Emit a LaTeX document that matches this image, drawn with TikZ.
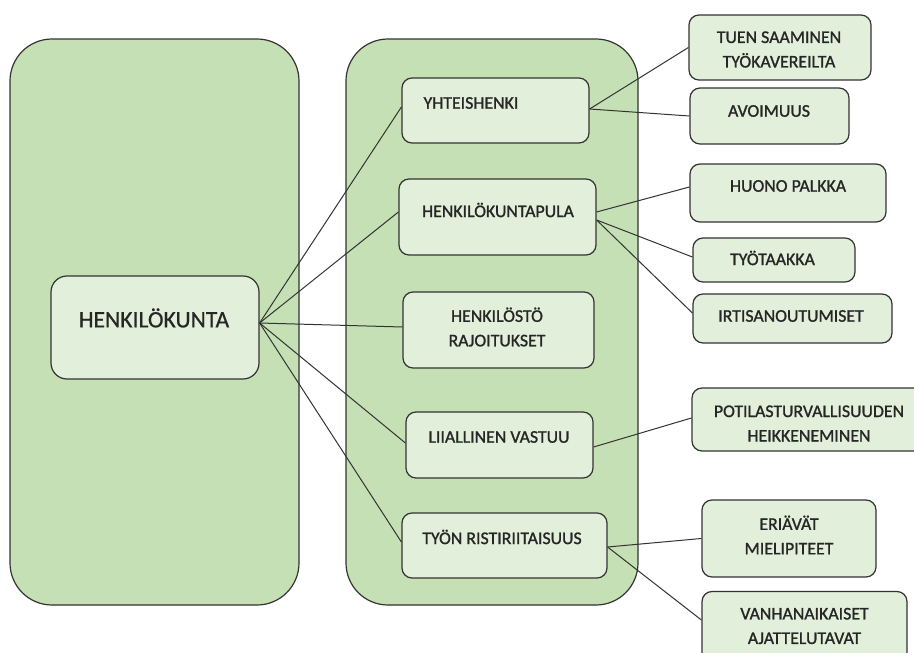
\documentclass[tikz,border=0pt]{standalone}
\usepackage{fontspec}
\setmainfont{Carlito}
\newfontfamily\lblfont[FakeBold=1.2]{Carlito}
\newfontfamily\mainfont[FakeBold=0.6]{Carlito}
\definecolor{bigfill}{HTML}{C5E0B4}
\definecolor{smallfill}{HTML}{E2EFDA}
\definecolor{edge}{HTML}{333333}
\definecolor{txt}{HTML}{262626}
\tikzset{
  bigbox/.style={draw=edge, fill=bigfill, line width=1.2pt, rounded corners=42pt, inner sep=0pt},
  mainbox/.style={draw=edge, fill=smallfill, line width=1.2pt, rounded corners=16pt, inner sep=0pt},
  itembox/.style={draw=edge, fill=smallfill, line width=1.2pt, rounded corners=10pt, inner sep=0pt},
  lbl/.style={text=txt, align=center, inner sep=0pt, font=\lblfont\fontsize{17.8}{24.5}\selectfont},
  mainlbl/.style={text=txt, align=center, inner sep=0pt, font=\mainfont\fontsize{23.6}{28}\selectfont},
  conn/.style={draw=edge, line width=1pt}
}
\begin{document}
\begin{tikzpicture}[x=1pt,y=-1pt]
\clip (0,0) rectangle (914,653);
\fill[white] (0,0) rectangle (914,653);
% big containers
\node[bigbox, minimum width=289pt, minimum height=566pt] (bigL) at (154.5,322) {};
\node[bigbox, minimum width=292pt, minimum height=566pt] (bigM) at (492,322) {};
% main
\node[mainbox, minimum width=208pt, minimum height=103pt,
  label={[mainlbl,xshift=-1pt,yshift=9.5pt]center:HENKILÖKUNTA}] (henk) at (155,327.5) {};
% middle column
\node[itembox, minimum width=187pt, minimum height=65pt,
  label={[lbl,xshift=-24.5pt,yshift=7.5pt]center:YHTEISHENKI}] (yht) at (495.5,110.5) {};
\node[itembox, minimum width=197pt, minimum height=76pt,
  label={[lbl,xshift=0.5pt,yshift=7pt]center:HENKILÖKUNTAPULA}] (hp) at (497.5,217) {};
\node[itembox, minimum width=191pt, minimum height=76pt,
  label={[lbl,xshift=-1.5pt,yshift=3pt]center:{HENKILÖSTÖ\\RAJOITUKSET}}] (hr) at (498.5,330) {};
\node[itembox, minimum width=187pt, minimum height=66pt,
  label={[lbl,xshift=-0.5pt,yshift=8pt]center:LIIALLINEN VASTUU}] (lv) at (499.5,445) {};
\node[itembox, minimum width=205pt, minimum height=65pt,
  label={[lbl,xshift=-2.5pt,yshift=8.5pt]center:TYÖN RISTIRIITAISUUS}] (tr) at (504.5,545.5) {};
% right column
\node[itembox, minimum width=182pt, minimum height=65pt,
  label={[lbl,xshift=-1pt,yshift=-2pt]center:{TUEN SAAMINEN\\TYÖKAVEREILTA}}] (tuen) at (780,47.5) {};
\node[itembox, minimum width=159pt, minimum height=56pt,
  label={[lbl,xshift=-0.5pt,yshift=5pt]center:AVOIMUUS}] (avo) at (769.5,116) {};
\node[itembox, minimum width=196pt, minimum height=58pt,
  label={[lbl,yshift=7pt]center:HUONO PALKKA}] (huo) at (788,193) {};
\node[itembox, minimum width=162pt, minimum height=44pt,
  label={[lbl,xshift=-1.5pt,yshift=2pt]center:TYÖTAAKKA}] (tyo) at (774,260) {};
\node[itembox, minimum width=199pt, minimum height=49pt,
  label={[lbl,xshift=-1.5pt,yshift=2.5pt]center:IRTISANOUTUMISET}] (irt) at (792.5,318.5) {};
\node[itembox, minimum width=234pt, minimum height=63pt,
  label={[lbl,yshift=-4pt]center:{POTILASTURVALLISUUDEN\\HEIKKENEMINEN}}] (pot) at (809,419.5) {};
\node[itembox, minimum width=174pt, minimum height=77pt,
  label={[lbl,yshift=3.5pt]center:{ERIÄVÄT\\MIELIPITEET}}] (eri) at (789,538.5) {};
\node[itembox, minimum width=205pt, minimum height=77pt,
  label={[lbl,yshift=4pt]center:{VANHANAIKAISET\\AJATTELUTAVAT}}] (van) at (804.5,630) {};
% connectors
\coordinate (hk) at ([yshift=4.5pt]henk.east);
\draw[conn] (hk) -- ([yshift=3.5pt]yht.west);
\draw[conn] (hk) -- ([yshift=5pt]hp.west);
\draw[conn] (hk) -- ([yshift=3pt]hr.west);
\draw[conn] (hk) -- ([yshift=2pt]lv.west);
\draw[conn] (hk) -- ([yshift=3.5pt]tr.west);
\draw[conn] ([yshift=1.5pt]yht.east) -- (tuen.west);
\draw[conn] ([yshift=1.5pt]yht.east) -- (avo.west);
\draw[conn] ([yshift=5pt]hp.east) -- ([yshift=6pt]huo.west);
\draw[conn] ([yshift=-3pt]hp.east) -- ([yshift=3pt]tyo.west);
\draw[conn] ([yshift=-3pt]hp.east) -- ([yshift=5.5pt]irt.west);
\draw[conn] ([yshift=-2pt]lv.east) -- ([yshift=1.5pt]pot.west);
\draw[conn] ([yshift=-1.5pt]tr.east) -- (eri.west);
\draw[conn] ([yshift=-1.5pt]tr.east) -- ([yshift=10pt]van.west);
\end{tikzpicture}
\end{document}
